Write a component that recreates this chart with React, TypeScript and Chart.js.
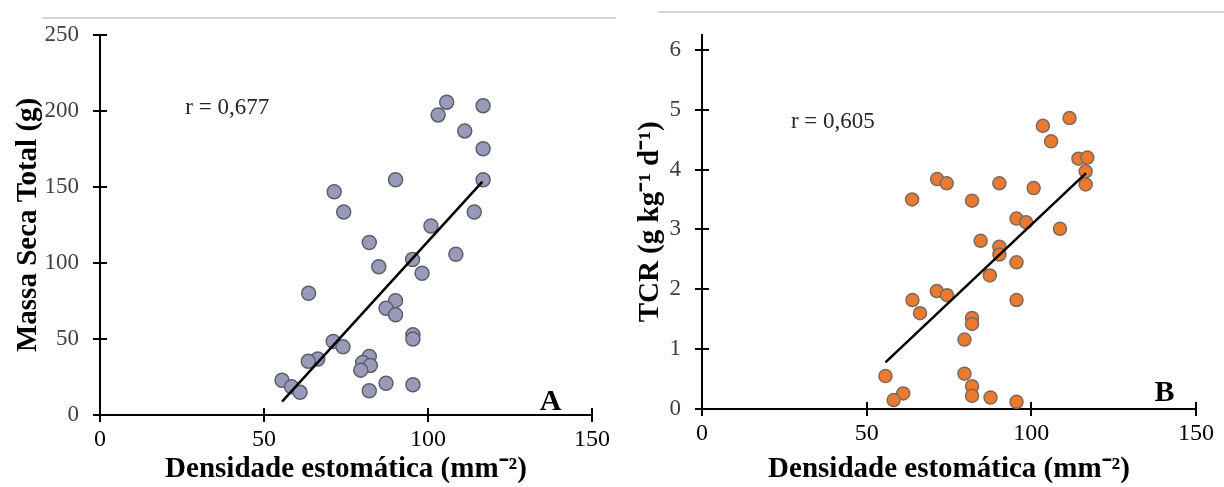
import React, { useEffect, useRef } from 'react';
import { Chart, registerables } from 'chart.js';

Chart.register(...registerables);

// ---------- Data ----------
const xTickStep = 50;
const xMin = 0;
const xMax = 150;

// Panel A: Massa Seca Total (g)
const massaX = [105.7, 116.8, 103.1, 111.2, 116.8, 90.1, 116.8, 71.4, 74.3, 114.1, 100.9, 82.1, 108.5, 95.3, 85.0, 98.2,
  63.6, 90.1, 87.2, 90.1, 95.4, 95.4, 71.1, 74.1, 66.4, 63.5, 82.1, 80.1, 82.4, 79.5, 55.5, 58.4, 61.0, 87.2, 95.4, 82.1];
const massaY = [205.7, 203.4, 197.3, 186.8, 175.1, 154.7, 154.7, 146.8, 133.5, 133.5, 124.3, 113.4, 105.7, 102.2, 97.5, 93.2,
  80.0, 75.2, 70.2, 65.9, 52.8, 49.9, 48.4, 44.8, 36.8, 35.3, 38.5, 34.5, 32.6, 29.5, 22.8, 18.5, 14.9, 20.9, 19.9, 15.9];
const massaTrendX = [55.5, 116.6];
const massaTrendY = [8.8, 153.5];
const massaYMax = 250;
const massaYStep = 50;

// Panel B: TCR (g kg-1 d-1)
const tcrX = [111.6, 103.5, 106.0, 114.3, 117.0, 116.5, 116.5, 71.4, 74.3, 90.3, 100.7, 63.8, 82.0, 95.5, 98.4, 108.7,
  84.6, 90.3, 90.3, 95.5, 87.4, 71.3, 74.4, 63.9, 95.5, 66.2, 82.0, 82.0, 79.7, 55.7, 79.7, 82.0, 61.1, 58.2, 82.0, 87.6, 95.5];
const tcrY = [4.86, 4.73, 4.47, 4.18, 4.20, 3.97, 3.75, 3.84, 3.77, 3.77, 3.69, 3.50, 3.48, 3.18, 3.12, 3.01,
  2.81, 2.71, 2.58, 2.45, 2.23, 1.97, 1.90, 1.82, 1.82, 1.60, 1.52, 1.42, 1.16, 0.55, 0.59, 0.38, 0.26, 0.15, 0.22, 0.19, 0.12];
const tcrTrendX = [55.7, 116.6];
const tcrTrendY = [0.78, 3.94];
const tcrYMax = 6.25;
const tcrYStep = 1;

const xTitle = 'Densidade estomática (mm⁻²)';
const yTitles = ['Massa Seca Total (g)', 'TCR (g kg⁻¹ d⁻¹)'];
const rTexts = ['r = 0,677', 'r = 0,605'];
const rPos = [[26, 202], [27, 4.8]];
const panelTexts = ['A', 'B'];
const panelPos = [[137.4, 8.7], [140.4, 0.27]];

const SERIF = "'Liberation Serif', 'Times New Roman', serif";

// ---------- Plugins ----------
const crossTicks = {
  id: 'crossTicks',
  afterDraw(chart: any, _args: any, opts: any) {
    const { ctx, chartArea, scales } = chart;
    const len = opts.len || 7;
    ctx.save();
    ctx.strokeStyle = '#000';
    ctx.lineWidth = 2;
    ctx.beginPath();
    scales.x.ticks.forEach((t: any) => {
      const px = Math.round(scales.x.getPixelForValue(t.value));
      ctx.moveTo(px, chartArea.bottom - len);
      ctx.lineTo(px, chartArea.bottom + len);
    });
    scales.y.ticks.forEach((t: any) => {
      const py = Math.round(scales.y.getPixelForValue(t.value));
      ctx.moveTo(chartArea.left - len, py);
      ctx.lineTo(chartArea.left + len, py);
    });
    ctx.stroke();
    ctx.restore();
  },
};

const annot = {
  id: 'annot',
  afterDraw(chart: any, _args: any, opts: any) {
    const { ctx, scales } = chart;
    ctx.save();
    ctx.textBaseline = 'middle';
    ctx.font = `23px ${SERIF}`;
    ctx.fillStyle = '#262626';
    ctx.textAlign = 'left';
    ctx.fillText(opts.rText, scales.x.getPixelForValue(opts.rPos[0]), scales.y.getPixelForValue(opts.rPos[1]));
    ctx.font = `bold 30px ${SERIF}`;
    ctx.fillStyle = '#000';
    ctx.textAlign = 'center';
    ctx.fillText(opts.pText, scales.x.getPixelForValue(opts.pPos[0]), scales.y.getPixelForValue(opts.pPos[1]));
    ctx.restore();
  },
};

function makeConfig(p: {
  xs: number[]; ys: number[]; tx: number[]; ty: number[];
  yMax: number; yStep: number; yTitle: string;
  fill: string; border: string; radius: number;
  yAxisWidth: number; xAxisHeight: number; padTop: number; padRight: number; yTitlePad: number;
  rText: string; rPos: number[]; pText: string; pPos: number[];
}) {
  return {
    type: 'scatter',
    data: {
      datasets: [
        {
          type: 'line',
          data: p.tx.map((x, i) => ({ x, y: p.ty[i] })),
          borderColor: '#000',
          borderWidth: 2.5,
          pointRadius: 0,
          fill: false,
          showLine: true,
        },
        {
          data: p.xs.map((x, i) => ({ x, y: p.ys[i] })),
          backgroundColor: p.fill,
          borderColor: p.border,
          borderWidth: 1.5,
          pointRadius: p.radius,
        },
      ],
    },
    options: {
      responsive: false,
      animation: false,
      devicePixelRatio: 1,
      layout: { padding: { left: 0, top: p.padTop, right: p.padRight, bottom: 0 } },
      plugins: {
        legend: { display: false },
        tooltip: { enabled: false },
        crossTicks: { len: 7 },
        annot: { rText: p.rText, rPos: p.rPos, pText: p.pText, pPos: p.pPos },
      },
      scales: {
        x: {
          type: 'linear',
          position: 'bottom',
          min: xMin,
          max: xMax,
          grid: { display: false, drawTicks: false },
          border: { display: true, color: '#000', width: 2 },
          ticks: { stepSize: xTickStep, padding: 10, color: '#000', font: { family: SERIF, size: 24 } },
          title: {
            display: true,
            text: xTitle,
            color: '#000',
            font: { family: SERIF, size: 29, weight: 'bold' },
            padding: { top: 0, bottom: 0 },
          },
          afterFit: (s: any) => { s.height = p.xAxisHeight; },
        },
        y: {
          type: 'linear',
          position: 'left',
          min: 0,
          max: p.yMax,
          grid: { display: false, drawTicks: false },
          border: { display: true, color: '#000', width: 2 },
          ticks: { stepSize: p.yStep, includeBounds: false, padding: 21, color: '#404040', font: { family: SERIF, size: 23 } },
          title: {
            display: true,
            text: p.yTitle,
            color: '#000',
            font: { family: SERIF, size: 29, weight: 'bold' },
            padding: { top: p.yTitlePad, bottom: 0 },
          },
          afterFit: (s: any) => { s.width = p.yAxisWidth; },
        },
      },
    },
    plugins: [crossTicks, annot],
  };
}

function Panel(props: { cfg: any; width: number; height: number; left: number }) {
  const ref = useRef<HTMLCanvasElement | null>(null);
  useEffect(() => {
    if (!ref.current) return;
    const chart = new Chart(ref.current, props.cfg);
    return () => chart.destroy();
  }, []);
  return (
    <canvas
      ref={ref}
      width={props.width}
      height={props.height}
      style={{ position: 'absolute', left: props.left, top: 0, width: props.width, height: props.height }}
    />
  );
}

export default function App() {
  const cfgA = makeConfig({
    xs: massaX, ys: massaY, tx: massaTrendX, ty: massaTrendY,
    yMax: massaYMax, yStep: massaYStep, yTitle: yTitles[0],
    fill: '#989ab8', border: '#5e5f6e', radius: 7,
    yAxisWidth: 100, xAxisHeight: 72, padTop: 34, padRight: 23, yTitlePad: 11,
    rText: rTexts[0], rPos: rPos[0], pText: panelTexts[0], pPos: panelPos[0],
  });
  const cfgB = makeConfig({
    xs: tcrX, ys: tcrY, tx: tcrTrendX, ty: tcrTrendY,
    yMax: tcrYMax, yStep: tcrYStep, yTitle: yTitles[1],
    fill: '#ec7a2e', border: '#7d6a5e', radius: 6.5,
    yAxisWidth: 82, xAxisHeight: 78, padTop: 28, padRight: 27, yTitlePad: 13,
    rText: rTexts[1], rPos: rPos[1], pText: panelTexts[1], pPos: panelPos[1],
  });
  return (
    <div style={{ position: 'absolute', left: 0, top: 0, width: 1224, height: 487, background: '#fff', overflow: 'hidden' }}>
      <div style={{ position: 'absolute', left: 42, top: 17, width: 574, height: 2, background: '#d4d4d4' }} />
      <div style={{ position: 'absolute', left: 658, top: 11, width: 566, height: 2, background: '#d4d4d4' }} />
      <Panel cfg={cfgA} width={620} height={487} left={0} />
      <Panel cfg={cfgB} width={604} height={487} left={620} />
    </div>
  );
}
